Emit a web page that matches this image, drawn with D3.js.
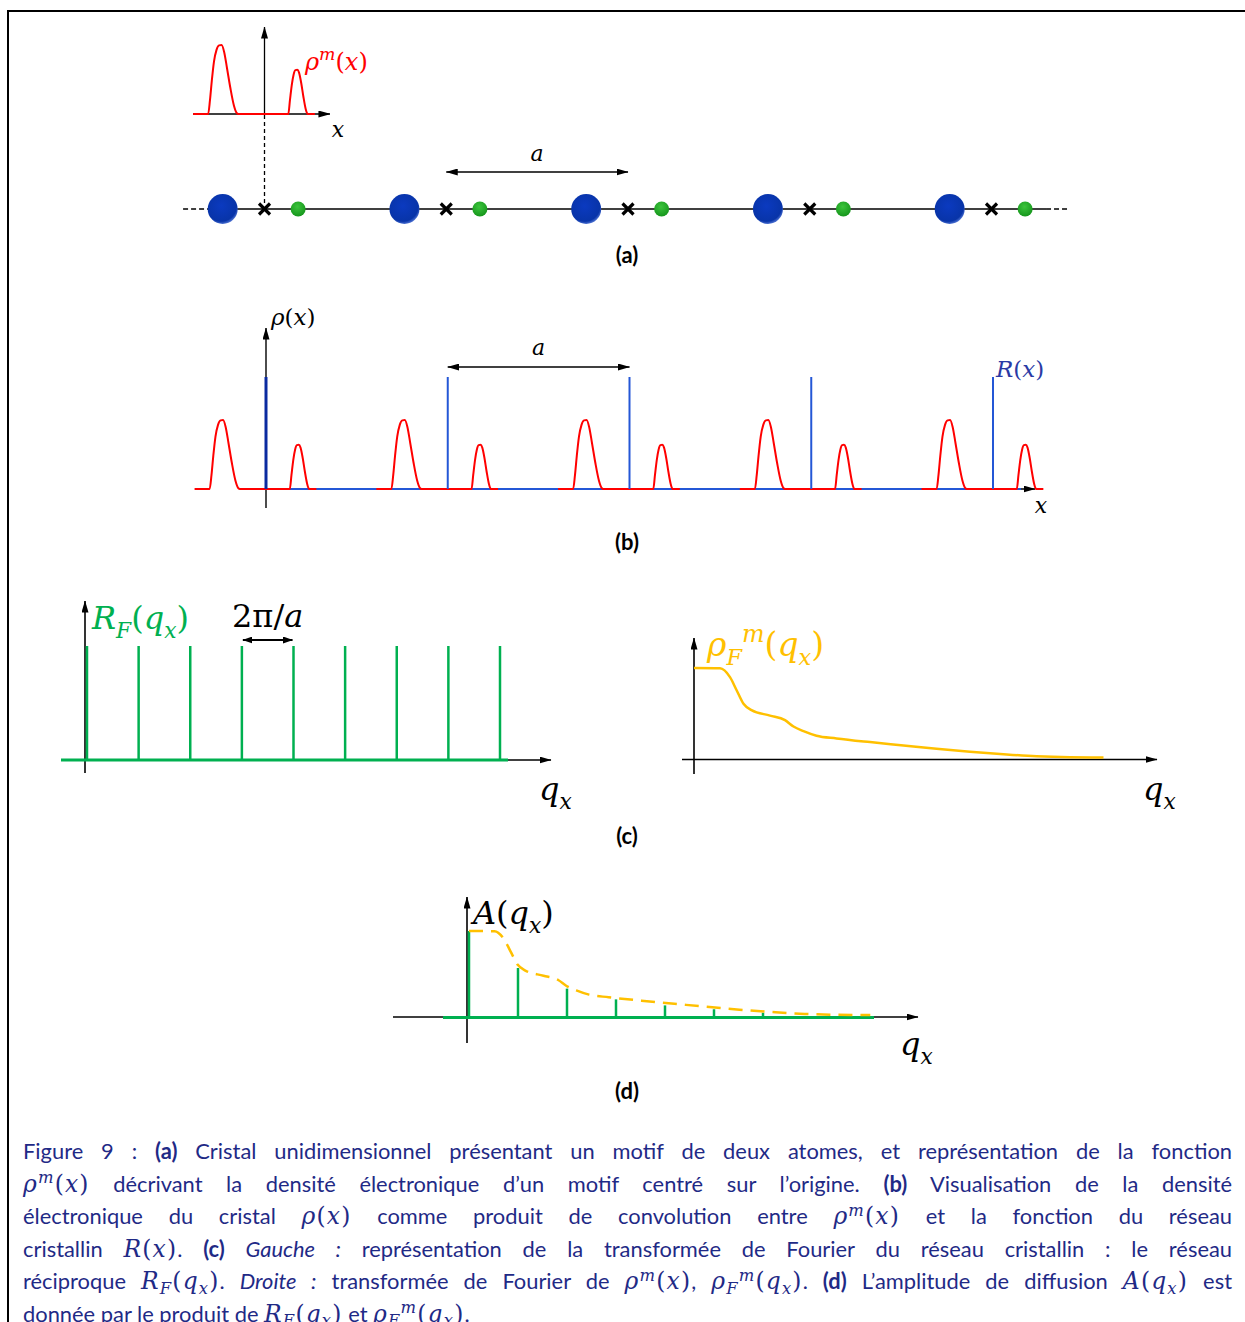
<!DOCTYPE html>
<html><head><meta charset="utf-8">
<script src="https://cdn.jsdelivr.net/npm/d3@7"></script>
<style>
body{margin:0;background:#fff;}
#wrap{position:relative;width:1245px;height:1322px;overflow:hidden;background:#fff;}
svg{position:absolute;left:0;top:0;}
#cap{position:absolute;left:23px;top:1135px;width:1209px;font-family:Lato,"Open Sans",sans-serif;font-size:22px;line-height:32.5px;color:#1f2a86;}
.ln{height:32.5px;text-align:justify;text-align-last:justify;white-space:nowrap;}
.ln.last{text-align-last:left;}
.m{font-family:"DejaVu Serif",serif;font-style:italic;font-size:1.07em;letter-spacing:0.05em;}
.u{font-style:normal;}
.sp{font-size:0.7em;position:relative;top:-0.5em;}
.sb{font-size:0.7em;position:relative;top:0.3em;}
</style></head><body>
<div id="wrap"><svg id="fig" width="1245" height="1322"></svg><div id="cap"></div></div>
<script>
// ---------------- DATA ----------------
const latticeN = [0, 1, 2, 3, 4];                 // lattice points (units of a)
const atoms = [                                   // motif atoms, position relative to lattice point (units of a)
  {name: "big",   pos: -0.23,  r: 15,  fill: "#0a36b2"},
  {name: "small", pos: 0.185,  r: 7.5, fill: "#22ab2a"}
];
// electron density of the motif: [x (units of a), density normalised to big peak]
const motifProfile = [
  [-0.393, 0], [-0.310, 0], [-0.300, 0.2], [-0.290, 0.48], [-0.278, 0.76], [-0.264, 0.93],
  [-0.250, 0.995], [-0.236, 1.0], [-0.222, 0.9], [-0.206, 0.66], [-0.188, 0.38], [-0.168, 0.12],
  [-0.152, 0.01], [-0.144, 0], [0.131, 0], [0.140, 0.2], [0.150, 0.42], [0.160, 0.57],
  [0.170, 0.635], [0.180, 0.64], [0.190, 0.60], [0.202, 0.45], [0.214, 0.25], [0.226, 0.08],
  [0.237, 0], [0.277, 0]
];
const reciprocalN = [0, 1, 2, 3, 4, 5, 6, 7, 8]; // reciprocal lattice points (units of 2π/a)
// Fourier transform of motif: [q (units of 2π/a), amplitude normalised]
const formFactor = [
  [0, 1.0], [0.52, 0.997], [0.72, 0.90], [0.85, 0.76], [0.99, 0.61], [1.15, 0.54],
  [1.52, 0.48], [1.82, 0.43], [1.99, 0.36], [2.19, 0.31], [2.45, 0.26], [2.85, 0.23],
  [3.52, 0.19], [4.19, 0.154], [4.85, 0.118], [5.52, 0.085], [6.19, 0.058], [6.85, 0.036],
  [7.52, 0.025], [8.19, 0.022]
];
const amplitudeN = [0, 1, 2, 3, 4, 5, 6];
const amplitudeValues = [1.0, 0.57, 0.33, 0.205, 0.135, 0.09, 0.05];

// ---------------- SETUP ----------------
const SERIF = "'DejaVu Serif', serif";
const SANS = "Lato, 'Open Sans', sans-serif";
const RED = "#ff0000", BLUE = "#2457d6", DBLUE = "#0a2aa0", GREEN = "#00b050", YEL = "#ffc000";
const svg = d3.select("#fig");
const defs = svg.append("defs");
function marker(id, L, W) {
  defs.append("marker").attr("id", id).attr("viewBox", `0 0 ${L} ${W}`)
    .attr("refX", L - 0.5).attr("refY", W / 2).attr("markerWidth", L).attr("markerHeight", W)
    .attr("markerUnits", "userSpaceOnUse").attr("orient", "auto-start-reverse")
    .append("path").attr("d", `M0,0 L${L},${W / 2} L0,${W} Z`).attr("fill", "#000");
}
marker("ah", 12, 7);
marker("ahs", 10, 7);
const gr = defs.append("radialGradient").attr("id", "gBlue").attr("cx", "45%").attr("cy", "40%").attr("r", "60%");
gr.append("stop").attr("offset", "0%").attr("stop-color", "#0b3ac0");
gr.append("stop").attr("offset", "85%").attr("stop-color", "#0834a8");
gr.append("stop").attr("offset", "100%").attr("stop-color", "#4a6fd0");
const gg = defs.append("radialGradient").attr("id", "gGreen").attr("cx", "45%").attr("cy", "35%").attr("r", "65%");
gg.append("stop").attr("offset", "0%").attr("stop-color", "#3cc43c");
gg.append("stop").attr("offset", "100%").attr("stop-color", "#16961c");

function line(g, x1, y1, x2, y2, o = {}) {
  const l = g.append("line").attr("x1", x1).attr("y1", y1).attr("x2", x2).attr("y2", y2)
    .attr("stroke", o.color || "#000").attr("stroke-width", o.w || 1.4);
  if (o.end) l.attr("marker-end", `url(#${o.end})`);
  if (o.start) l.attr("marker-start", `url(#${o.start})`);
  if (o.dash) l.attr("stroke-dasharray", o.dash);
  return l;
}
function mathText(g, x, y, size, color, segs, anchor = "start") {
  const t = g.append("text").attr("x", x).attr("y", y).attr("font-size", size)
    .attr("fill", color).attr("font-family", SERIF).attr("text-anchor", anchor);
  let cur = 0;
  segs.forEach(([s, k]) => {
    let off = 0, fs = size, style = "italic";
    if (k === "u") style = "normal";
    if (k === "sub") { off = 0.28 * size; fs = 0.68 * size; }
    if (k === "sup") { off = -0.42 * size; fs = 0.72 * size; }
    t.append("tspan").attr("dy", off - cur).attr("font-size", fs).attr("font-style", style).text(s);
    cur = off;
  });
  return t;
}
function title(txt, y) {
  svg.append("text").attr("x", 627).attr("y", y).attr("text-anchor", "middle")
    .attr("font-family", SANS).attr("font-weight", "bold").attr("font-size", 22).attr("fill", "#000").text(txt);
}
// frame
line(svg, 8, 11, 1245, 11, {w: 2});
line(svg, 8, 10, 8, 1322, {w: 2});

// ---------------- PANEL (a) ----------------
const xA = d3.scaleLinear().domain([0, 4]).range([264.5, 991.5]);
const yA = d3.scaleLinear().domain([0, 1]).range([114, 45]);
const gA = svg.append("g");
const chainY = 209;
line(gA, xA(-0.448), chainY, xA(-0.31), chainY, {w: 1.3, dash: "5,3"});
line(gA, xA(-0.31), chainY, xA(4.3), chainY, {w: 1.6});
line(gA, xA(4.3), chainY, xA(4.432), chainY, {w: 1.3, dash: "5,3"});
// inset axes
line(gA, xA(-0.393), yA(0), xA(0.36), yA(0), {w: 1.3, end: "ah"});
line(gA, xA(0), yA(0), xA(0), 27, {w: 1.3, end: "ah"});
line(gA, xA(0), yA(0) + 1, xA(0), chainY - 4, {w: 1.3, dash: "4,3"});
const motifLine = d3.line().curve(d3.curveMonotoneX);
gA.append("path").attr("d", motifLine(motifProfile.map(p => [xA(p[0]), yA(p[1])])))
  .attr("fill", "none").attr("stroke", RED).attr("stroke-width", 2);
mathText(gA, 305, 70, 24, RED, [["ρ", "i"], ["m", "sup"], ["(", "u"], ["x", "i"], [")", "u"]]);
mathText(gA, 338, 137, 22, "#000", [["x", "i"]], "middle");
// atoms and lattice crosses
latticeN.forEach(n => {
  atoms.forEach(a => {
    gA.append("circle").attr("cx", xA(n + a.pos)).attr("cy", chainY).attr("r", a.r)
      .attr("fill", a.name === "big" ? "url(#gBlue)" : "url(#gGreen)");
  });
  const cx = xA(n);
  line(gA, cx - 5.5, chainY - 5.5, cx + 5.5, chainY + 5.5, {w: 3.2});
  line(gA, cx - 5.5, chainY + 5.5, cx + 5.5, chainY - 5.5, {w: 3.2});
});
line(gA, xA(1), 172, xA(2), 172, {w: 1.3, start: "ah", end: "ah"});
mathText(gA, (xA(1) + xA(2)) / 2, 161, 22, "#000", [["a", "i"]], "middle");
title("(a)", 263);

// ---------------- PANEL (b) ----------------
const xB = d3.scaleLinear().domain([0, 4]).range([266, 993]);
const yB = d3.scaleLinear().domain([0, 1]).range([489, 420]);
const gB = svg.append("g");
line(gB, xB(0), yB(0), 1035, yB(0), {w: 1.4, end: "ah"});
line(gB, xB(0), 508, xB(0), 328, {w: 1.4, end: "ah"});
line(gB, xB(0), yB(0), 1021, yB(0), {w: 2, color: BLUE});
latticeN.forEach(n => {
  gB.append("path").attr("d", motifLine(motifProfile.map(p => [xB(n + p[0]), yB(p[1])])))
    .attr("fill", "none").attr("stroke", RED).attr("stroke-width", 2);
});
latticeN.forEach(n => {
  line(gB, xB(n), yB(0), xB(n), 377, {w: n === 0 ? 3 : 2, color: n === 0 ? DBLUE : BLUE});
});
line(gB, xB(1), 367, xB(2), 367, {w: 1.3, start: "ah", end: "ah"});
mathText(gB, (xB(1) + xB(2)) / 2, 355, 22, "#000", [["a", "i"]], "middle");
mathText(gB, 271, 325, 23, "#000", [["ρ", "i"], ["(", "u"], ["x", "i"], [")", "u"]]);
mathText(gB, 996, 377, 23, "#2a3aa5", [["R", "i"], ["(", "u"], ["x", "i"], [")", "u"]]);
mathText(gB, 1041, 513, 22, "#000", [["x", "i"]], "middle");
title("(b)", 550);

// ---------------- PANEL (c) left ----------------
const xCL = d3.scaleLinear().domain([0, 8]).range([87, 500]);
const yCL = d3.scaleLinear().domain([0, 1]).range([760, 646]);
const gCL = svg.append("g");
line(gCL, 61, yCL(0), 551, yCL(0), {w: 1.6, end: "ah"});
line(gCL, 85, 773, 85, 601, {w: 1.6, end: "ah"});
line(gCL, 61, yCL(0), 508, yCL(0), {w: 3, color: GREEN});
reciprocalN.forEach(k => line(gCL, xCL(k), yCL(0), xCL(k), yCL(1), {w: 2.5, color: GREEN}));
line(gCL, xCL(3) + 1, 640, xCL(4) - 1, 640, {w: 1.8, start: "ahs", end: "ahs"});
mathText(gCL, 92, 629, 32, GREEN, [["R", "i"], ["F", "sub"], ["(", "u"], ["q", "i"], ["x", "sub"], [")", "u"]]);
mathText(gCL, 232, 627, 32, "#000", [["2", "u"], ["π", "u"], ["/", "u"], ["a", "i"]]);
mathText(gCL, 539, 800, 32, "#000", [["q", "i"], ["x", "sub"]]);

// ---------------- PANEL (c) right ----------------
const xCR = d3.scaleLinear().domain([0, 1]).range([694, 744]);
const yCR = d3.scaleLinear().domain([0, 1]).range([759.5, 668]);
const gCR = svg.append("g");
line(gCR, 682, yCR(0), 1157, yCR(0), {w: 1.6, end: "ah"});
line(gCR, xCR(0), 774, xCR(0), 638, {w: 1.6, end: "ah"});
const ffLine = d3.line().curve(d3.curveMonotoneX);
gCR.append("path").attr("d", ffLine(formFactor.map(p => [xCR(p[0]), yCR(p[1])])))
  .attr("fill", "none").attr("stroke", YEL).attr("stroke-width", 2.5);
mathText(gCR, 707, 656, 33, YEL, [["ρ", "i"], ["F", "sub"], ["m", "sup"], ["(", "u"], ["q", "i"], ["x", "sub"], [")", "u"]]);
mathText(gCR, 1143, 800, 32, "#000", [["q", "i"], ["x", "sub"]]);
title("(c)", 844);

// ---------------- PANEL (d) ----------------
const xD = d3.scaleLinear().domain([0, 1]).range([469, 518]);
const yD = d3.scaleLinear().domain([0, 1]).range([1017, 931]);
const gD = svg.append("g");
line(gD, 393, yD(0), 918, yD(0), {w: 1.6, end: "ah"});
line(gD, 467, 1043, 467, 897, {w: 1.6, end: "ah"});
line(gD, 443, yD(0) + 0.5, 874, yD(0) + 0.5, {w: 3, color: GREEN});
amplitudeN.forEach((k, i) => line(gD, xD(k), yD(0), xD(k), yD(amplitudeValues[i]), {w: 2.5, color: GREEN}));
gD.append("path").attr("d", ffLine(formFactor.map(p => [xD(p[0]), yD(p[1])])))
  .attr("fill", "none").attr("stroke", YEL).attr("stroke-width", 2.5).attr("stroke-dasharray", "14,8");
mathText(gD, 473, 924, 32, "#000", [["A", "i"], ["(", "u"], ["q", "i"], ["x", "sub"], [")", "u"]]);
mathText(gD, 900, 1055, 32, "#000", [["q", "i"], ["x", "sub"]]);
title("(d)", 1099);

// ---------------- CAPTION ----------------
const M = s => `<span class="m">${s}</span>`;
const P = s => `<span class="u">${s}</span>`;
const rho_m_x = M(`ρ<span class="sp">m</span>${P("(")}x${P(")")}`);
const rho_x = M(`ρ${P("(")}x${P(")")}`);
const R_x = M(`R${P("(")}x${P(")")}`);
const RF_q = M(`R<span class="sb">F</span>${P("(")}q<span class="sb">x</span>${P(")")}`);
const rhoF_q = M(`ρ<span class="sb">F</span><span class="sp">m</span>${P("(")}q<span class="sb">x</span>${P(")")}`);
const A_q = M(`A${P("(")}q<span class="sb">x</span>${P(")")}`);
const captionLines = [
  `Figure 9 : <b>(a)</b> Cristal unidimensionnel présentant un motif de deux atomes, et représentation de la fonction`,
  `${rho_m_x} décrivant la densité électronique d’un motif centré sur l’origine. <b>(b)</b> Visualisation de la densité`,
  `électronique du cristal ${rho_x} comme produit de convolution entre ${rho_m_x} et la fonction du réseau`,
  `cristallin ${R_x}. <b>(c)</b> <i>Gauche :</i> représentation de la transformée de Fourier du réseau cristallin : le réseau`,
  `réciproque ${RF_q}. <i>Droite :</i> transformée de Fourier de ${rho_m_x}, ${rhoF_q}. <b>(d)</b> L’amplitude de diffusion ${A_q} est`,
  `donnée par le produit de ${RF_q} et ${rhoF_q}.`
];
const cap = d3.select("#cap");
let maxW = 0;
captionLines.forEach((h, i) => {
  const d = cap.append("div").attr("class", "ln" + (i === captionLines.length - 1 ? " last" : ""));
  const s = d.append("span").style("white-space", "nowrap").html(h);
  maxW = Math.max(maxW, s.node().getBoundingClientRect().width);
});
if (maxW > 1203) cap.style("font-size", (22 * 1203 / maxW) + "px");
cap.selectAll("div.ln").each(function () {
  const sp = this.firstChild;
  this.innerHTML = sp.innerHTML;
  this.style.whiteSpace = "normal";
});
</script>
</body></html>
